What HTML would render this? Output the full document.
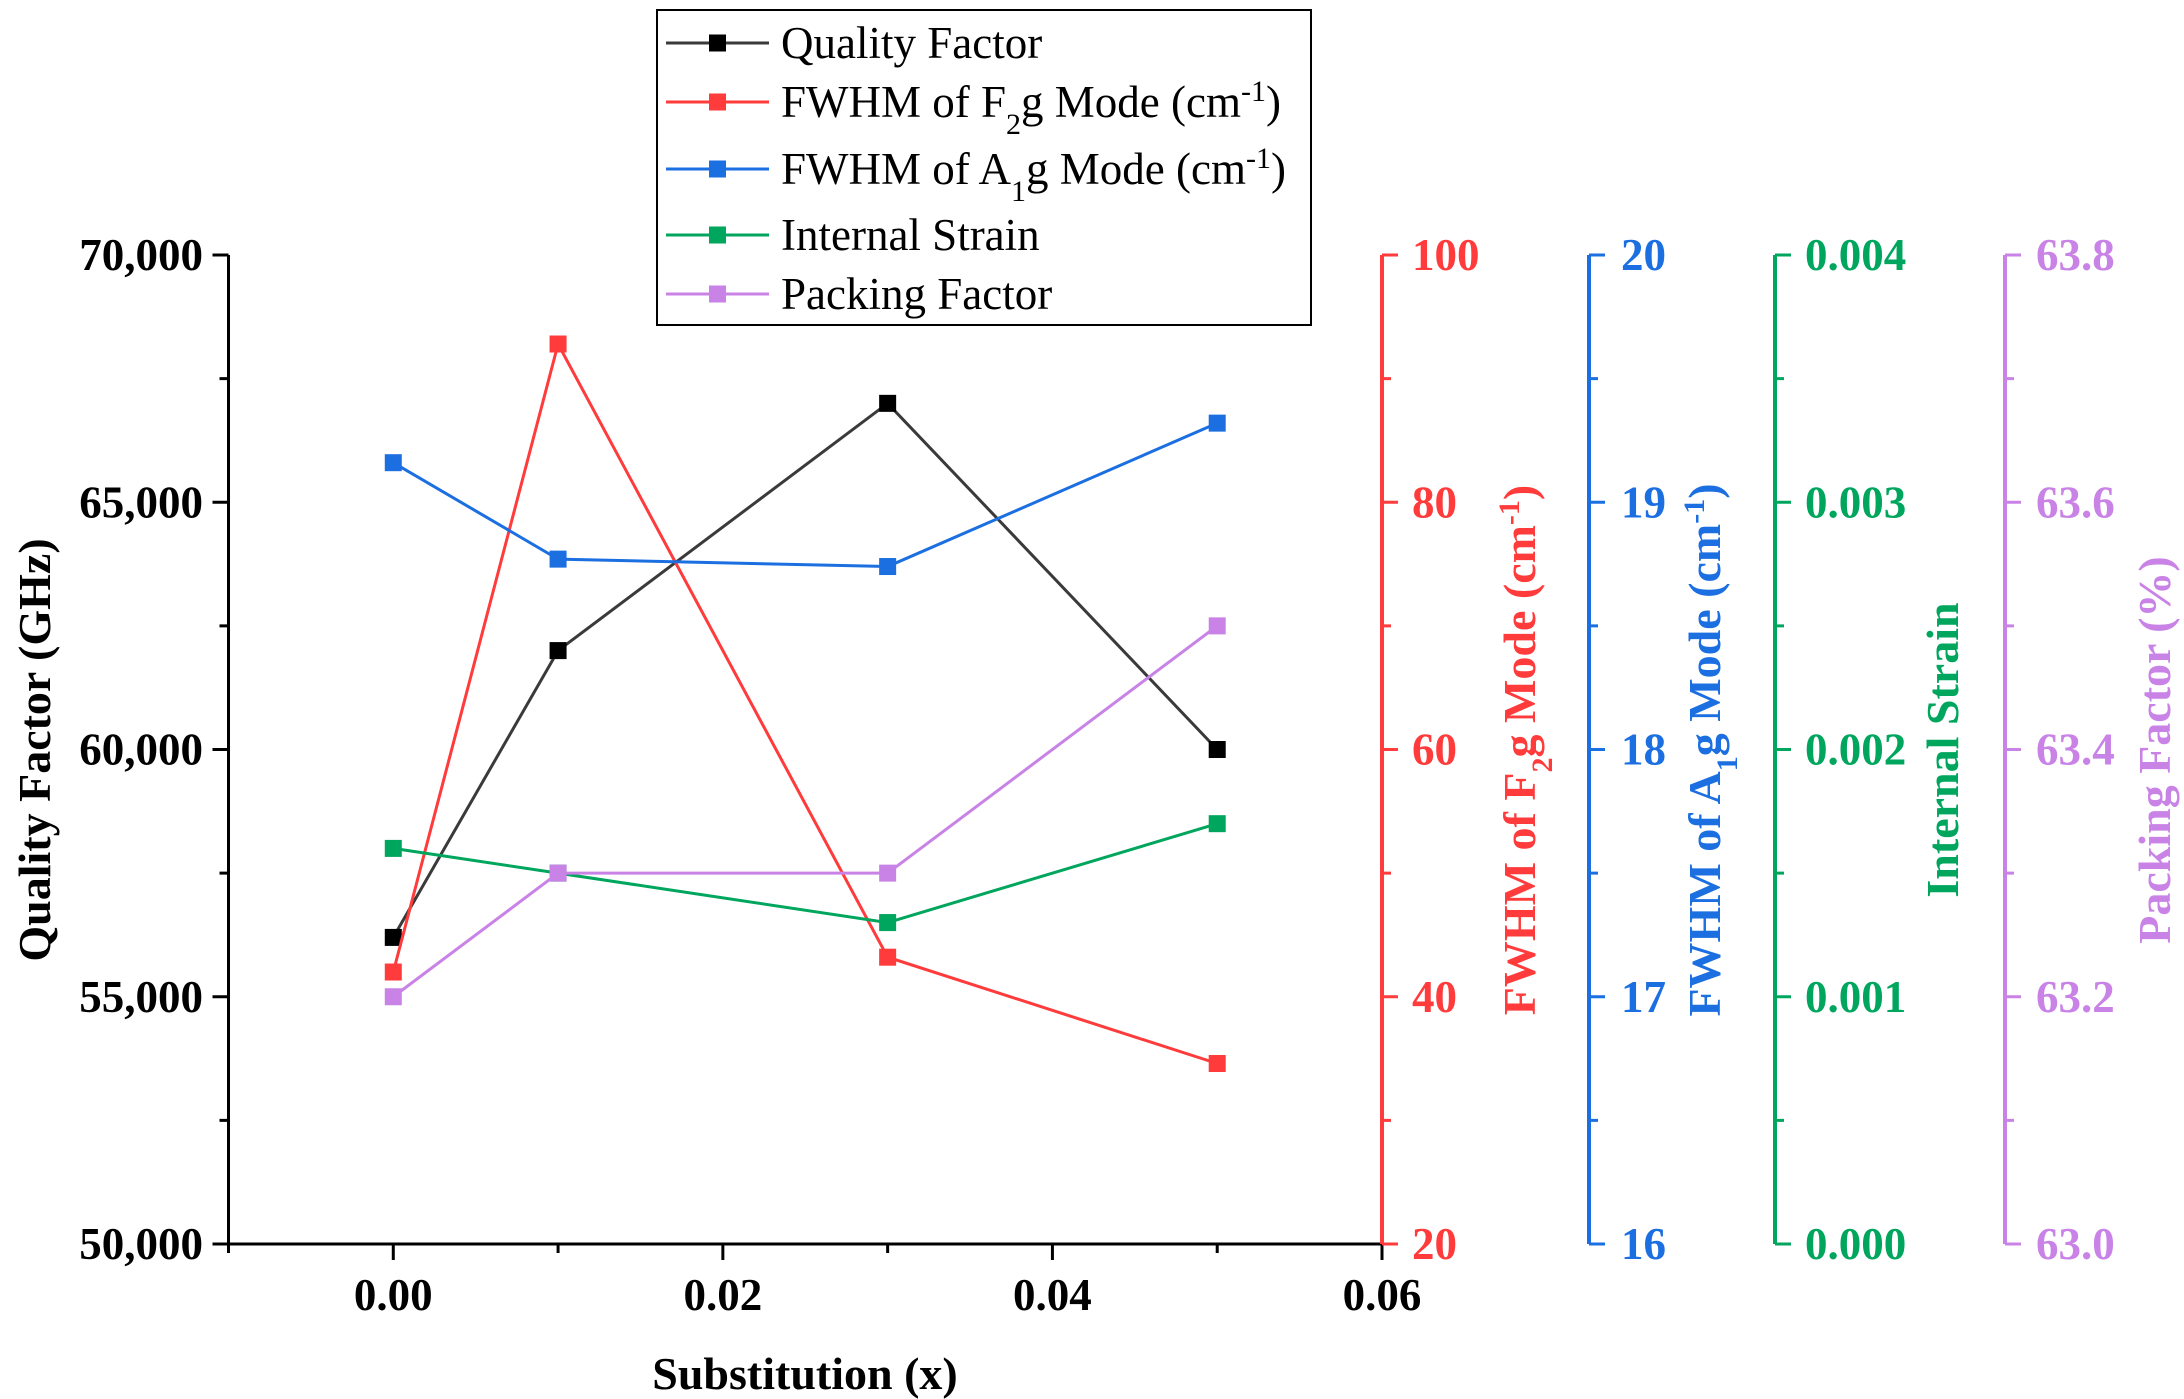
<!DOCTYPE html>
<html><head><meta charset="utf-8"><style>
html,body{margin:0;padding:0;background:#fff}
svg{display:block}
text{font-family:"Liberation Serif",serif}
</style></head><body>
<svg id="chart" width="2184" height="1399" viewBox="0 0 2184 1399" xmlns="http://www.w3.org/2000/svg"></svg>
<script>
const xValues = [0.00, 0.01, 0.03, 0.05];
const qualityFactor = [56200, 62000, 67000, 60000];
const fwhmF2g = [42, 92.8, 43.2, 34.6];
const fwhmA1g = [19.16, 18.77, 18.74, 19.32];
const internalStrain = [0.0016, 0.0015, 0.0013, 0.0017];
const packingFactor = [63.2, 63.3, 63.3, 63.5];
const xTicks = [0.00, 0.02, 0.04, 0.06];
const xTickLabels = ["0.00", "0.02", "0.04", "0.06"];
const qfTicks = [50000, 55000, 60000, 65000, 70000];
const qfTickLabels = ["50,000", "55,000", "60,000", "65,000", "70,000"];
const f2gTicks = [20, 40, 60, 80, 100];
const a1gTicks = [16, 17, 18, 19, 20];
const strainTicks = [0, 0.001, 0.002, 0.003, 0.004];
const strainTickLabels = ["0.000", "0.001", "0.002", "0.003", "0.004"];
const packTicks = [63.0, 63.2, 63.4, 63.6, 63.8];
const packTickLabels = ["63.0", "63.2", "63.4", "63.6", "63.8"];

const svg = document.getElementById('chart');
const NS = 'http://www.w3.org/2000/svg';
const L = 228.5, R = 1382, T = 255, B = 1244;
const X0 = -0.01, X1 = 0.06;
const TF = 45, TT = 46, LF = 45;
function xs(v){ return L + (v - X0) / (X1 - X0) * (R - L); }
function mkY(a, b){ return v => B - (v - a) / (b - a) * (B - T); }
const yQ = mkY(50000, 70000), yF = mkY(20, 100), yA = mkY(16, 20), yS = mkY(0, 0.004), yP = mkY(63.0, 63.8);

function el(tag, attrs, parent){
  const e = document.createElementNS(NS, tag);
  for (const k in attrs) e.setAttribute(k, attrs[k]);
  (parent || svg).appendChild(e);
  return e;
}
function txt(s, attrs, parent){ const t = el('text', attrs, parent); t.textContent = s; return t; }

const C = {q:'#3a3a3a', qm:'#000', f:'#ff3b3b', a:'#1b6fe0', s:'#00a65d', p:'#c983e6'};

let g = el('g', {});


el('line', {x1:L, y1:B, x2:R, y2:B, stroke:'#000', 'stroke-width':3}, g);
xTicks.forEach((v, i) => {
  el('line', {x1:xs(v), y1:B, x2:xs(v), y2:B+16, stroke:'#000', 'stroke-width':3}, g);
  const t = txt(xTickLabels[i], {x:xs(v), y:1310, 'text-anchor':'middle', 'font-size':TF, 'font-weight':'bold'}, g);
  
  
});
[-0.01, 0.01, 0.03, 0.05].forEach(v => el('line', {x1:xs(v), y1:B, x2:xs(v), y2:B+9, stroke:'#000', 'stroke-width':3}, g));
let xt = txt('Substitution (x)', {x:805, y:1389, 'text-anchor':'middle', 'font-size':TT, 'font-weight':'bold'}, g);



g = el('g', {});


el('line', {x1:L, y1:T, x2:L, y2:B+1.5, stroke:'#000', 'stroke-width':3}, g);
qfTicks.forEach((v, i) => {
  el('line', {x1:L-16, y1:yQ(v), x2:L, y2:yQ(v), stroke:'#000', 'stroke-width':3}, g);
  if (i < qfTicks.length - 1) el('line', {x1:L-9, y1:yQ(v+2500), x2:L, y2:yQ(v+2500), stroke:'#000', 'stroke-width':3}, g);
  const t = txt(qfTickLabels[i], {x:203, y:yQ(v)+15, 'text-anchor':'end', 'font-size':TF, 'font-weight':'bold'}, g);
  
  
});
let yt = txt('Quality Factor (GHz)', {x:0, y:0, transform:'translate(50,750) rotate(-90)', 'text-anchor':'middle', 'font-size':TT, 'font-weight':'bold'}, g);



function rightAxis(name, x, color, yfn, ticks, labels, labelX, titleX, titleParts){
  const ga = el('g', {});
  
  
  el('line', {x1:x, y1:T, x2:x, y2:B, stroke:color, 'stroke-width':4}, ga);
  ticks.forEach((v, i) => {
    el('line', {x1:x, y1:yfn(v), x2:x+16, y2:yfn(v), stroke:color, 'stroke-width':3}, ga);
    if (i < ticks.length - 1) {
      const mid = (v + ticks[i+1]) / 2;
      el('line', {x1:x, y1:yfn(mid), x2:x+9, y2:yfn(mid), stroke:color, 'stroke-width':3}, ga);
    }
    const t = txt(labels[i], {x:labelX, y:yfn(v)+15, 'font-size':TF, 'font-weight':'bold', fill:color}, ga);
    
    
  });
  const tt = el('text', {transform:'translate('+titleX+',750) rotate(-90)', 'text-anchor':'middle', 'font-size':TT, 'font-weight':'bold', fill:color}, ga);
  
  
  titleParts.forEach(p => {
    const s = el('tspan', p[1] ? {'font-size':30, 'baseline-shift':p[1]} : {}, tt);
    s.textContent = p[0];
  });
}
rightAxis('fwhm-f2g-axis', R, C.f, yF, f2gTicks, f2gTicks.map(String), 1412, 1535,
  [['FWHM of F'],['2','sub'],['g Mode (cm'],['-1','super'],[')']]);
rightAxis('fwhm-a1g-axis', 1589, C.a, yA, a1gTicks, a1gTicks.map(String), 1621, 1720,
  [['FWHM of A'],['1','sub'],['g Mode (cm'],['-1','super'],[')']]);
rightAxis('internal-strain-axis', 1775, C.s, yS, strainTicks, strainTickLabels, 1805, 1958,
  [['Internal Strain']]);
rightAxis('packing-factor-axis', 2005, C.p, yP, packTicks, packTickLabels, 2036, 2170,
  [['Packing Factor (%)']]);

function series(name, vals, yfn, color, mcolor){
  const gs = el('g', {});
  
  
  const pts = xValues.map((x, i) => xs(x) + ',' + yfn(vals[i])).join(' ');
  el('polyline', {points:pts, fill:'none', stroke:color, 'stroke-width':3}, gs);
  xValues.forEach((x, i) => {
    const r = el('rect', {x:xs(x)-8.5, y:yfn(vals[i])-8.5, width:17, height:17, fill:mcolor}, gs);
    
    
  });
}
series('quality-factor-series', qualityFactor, yQ, C.q, C.qm);
series('fwhm-f2g-series', fwhmF2g, yF, C.f, C.f);
series('fwhm-a1g-series', fwhmA1g, yA, C.a, C.a);
series('internal-strain-series', internalStrain, yS, C.s, C.s);
series('packing-factor-series', packingFactor, yP, C.p, C.p);

const lg = el('g', {});


el('rect', {x:657, y:10, width:654, height:315, fill:'#fff', stroke:'#000', 'stroke-width':2}, lg);
const entries = [
  [[['Quality Factor']], C.q, C.qm, 43],
  [[['FWHM of F'],['2','sub'],['g Mode (cm'],['-1','super'],[')']], C.f, C.f, 102],
  [[['FWHM of A'],['1','sub'],['g Mode (cm'],['-1','super'],[')']], C.a, C.a, 169],
  [[['Internal Strain']], C.s, C.s, 235],
  [[['Packing Factor']], C.p, C.p, 294]
];
entries.forEach(e => {
  const ge = el('g', {}, lg);
  
  
  el('line', {x1:666, y1:e[3], x2:769, y2:e[3], stroke:e[1], 'stroke-width':3}, ge);
  el('rect', {x:709, y:e[3]-8.5, width:17, height:17, fill:e[2]}, ge);
  const t = el('text', {x:781, y:e[3]+15, 'font-size':LF, fill:'#000'}, ge);
  e[0].forEach(p => {
    const s = el('tspan', p[1] ? {'font-size':30, 'baseline-shift':p[1]} : {}, t);
    s.textContent = p[0];
  });
});
</script>
</body></html>
